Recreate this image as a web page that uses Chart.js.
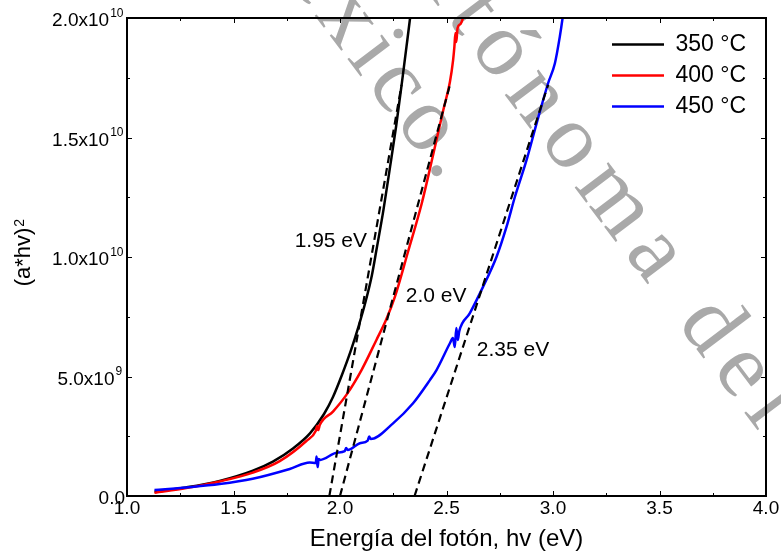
<!DOCTYPE html>
<html>
<head>
<meta charset="utf-8">
<title>Energía del fotón vs (a*hv)^2</title>
<script src="https://cdn.jsdelivr.net/npm/chart.js@4/dist/chart.umd.min.js"></script>
<style>
  html, body { margin: 0; padding: 0; background: #ffffff; }
  #wrap { position: relative; width: 781px; height: 557px; }
</style>
</head>
<body>
<div id="wrap"><canvas id="c" width="781" height="557"></canvas></div>
<script>
// ---- data ---------------------------------------------------------------
// Tauc plot: (a*hv)^2 against photon energy for three annealing temperatures.
const seriesNames = ['350 °C', '400 °C', '450 °C'];

const e350 = [1.129, 1.278, 1.435, 1.591, 1.685, 1.781, 1.859, 1.925, 1.967, 2.009,
              2.052, 2.089, 2.122, 2.150, 2.171, 2.204, 2.235, 2.263, 2.291, 2.312,
              2.329, 2.336];
const v350 = [1.8e8, 3.6e8, 6.3e8, 1.06e9, 1.44e9, 2.00e9, 2.62e9, 3.43e9, 4.14e9, 5.06e9,
              6.11e9, 7.15e9, 8.20e9, 9.25e9, 1.029e10, 1.197e10, 1.377e10, 1.544e10, 1.732e10, 1.879e10,
              2.0e10, 2.054e10];

const e400 = [1.129, 1.278, 1.435, 1.591, 1.717, 1.842, 1.886, 1.893, 1.898, 1.905,
              1.967, 2.030, 2.101, 2.171, 2.216, 2.258, 2.319, 2.384, 2.437, 2.485,
              2.516, 2.531, 2.537, 2.542, 2.546, 2.552, 2.566, 2.577, 2.583];
const v400 = [1.4e8, 3.3e8, 6.1e8, 9.8e8, 1.46e9, 2.30e9, 2.72e9, 2.93e9, 2.76e9, 2.97e9,
              3.53e9, 4.23e9, 5.27e9, 6.53e9, 7.36e9, 8.34e9, 1.021e10, 1.225e10, 1.427e10, 1.615e10,
              1.732e10, 1.824e10, 1.879e10, 1.937e10, 1.900e10, 1.958e10, 1.975e10, 2.0e10, 2.033e10];

const e450 = [1.129, 1.280, 1.435, 1.590, 1.764, 1.858, 1.886, 1.890, 1.895, 1.900,
              1.907, 1.983, 2.022, 2.029, 2.036, 2.093, 2.130, 2.137, 2.144, 2.249,
              2.343, 2.422, 2.453, 2.516, 2.530, 2.539, 2.546, 2.553, 2.560, 2.609,
              2.672, 2.735, 2.782, 2.821, 2.876, 2.923, 2.977, 3.009, 3.032, 3.045,
              3.051];
const v450 = [2.5e8, 3.6e8, 5.0e8, 7.2e8, 1.13e9, 1.40e9, 1.38e9, 1.65e9, 1.21e9, 1.55e9,
              1.51e9, 1.81e9, 1.88e9, 2.01e9, 1.92e9, 2.21e9, 2.32e9, 2.49e9, 2.38e9, 3.04e9,
              3.88e9, 4.85e9, 5.27e9, 6.39e9, 6.61e9, 6.23e9, 7.03e9, 6.53e9, 6.90e9, 7.64e9,
              8.76e9, 1.001e10, 1.127e10, 1.251e10, 1.406e10, 1.559e10, 1.727e10, 1.811e10, 1.922e10, 2.0e10,
              2.042e10];

// Linear fits extrapolated to zero: band-gap energies and upper end of each fit
const gapValues  = [1.95, 2.0, 2.35];
const gapLabels  = ['1.95 eV', '2.0 eV', '2.35 eV'];
const fitTopE    = [2.289, 2.516, 2.977];
const fitTopV    = [1.72e10, 1.72e10, 1.72e10];

// Axis tick labels
const xTickLabels    = ['1.0', '1.5', '2.0', '2.5', '3.0', '3.5', '4.0'];
const yTickMantissas = ['0.0', '5.0x10', '1.0x10', '1.5x10', '2.0x10'];
const yTickExponents = ['', '9', '10', '10', '10'];

// ---- styling --------------------------------------------------------------
const SANS = '"Liberation Sans", Arial, Helvetica, sans-serif';
const SERIF = '"Liberation Serif", "Times New Roman", serif';
const seriesColors = ['#000000', '#ff0000', '#0000ff'];
const TICK_FONT = 19;
const EXP_FONT = 12;

Chart.defaults.font.family = SANS;
Chart.defaults.color = '#000000';

// room kept after each y mantissa for its superscript exponent
function expReserve(exp) {
  if (!exp) return '';
  return exp.length > 1 ? '   ' : '  ';
}

// where the band-gap notes sit (data coordinates of their left/middle point)
const gapNotePos = [
  { x: 1.787, y: 1.067e10 },
  { x: 2.309, y: 8.37e9 },
  { x: 2.642, y: 6.11e9 }
];

const toPoints = (xs, ys) => xs.map((x, i) => ({ x: x, y: ys[i] }));

const curveSets = [[e350, v350], [e400, v400], [e450, v450]].map((pair, i) => ({
  label: seriesNames[i],
  data: toPoints(pair[0], pair[1]),
  borderColor: seriesColors[i],
  backgroundColor: seriesColors[i],
  borderWidth: 2.5,
  pointRadius: 0,
  cubicInterpolationMode: 'monotone',
  order: 3 - i
}));

const fitSets = gapValues.map((g, i) => ({
  label: 'fit ' + gapLabels[i],
  data: [{ x: g, y: 0 }, { x: fitTopE[i], y: fitTopV[i] }],
  borderColor: '#000000',
  backgroundColor: '#000000',
  borderWidth: 2.2,
  borderDash: [8, 5],
  pointRadius: 0,
  tension: 0,
  order: 0
}));

// diagonal gray watermark lettering behind the plot
const watermarkPlugin = {
  id: 'watermark',
  beforeDraw(chart) {
    const ctx = chart.ctx;
    const lines = [
      { text: 'Autónoma del', x: 364, y: -92, gap: 12 },
      { text: 'México.', x: 232, y: -94, gap: 7 }
    ];
    ctx.save();
    ctx.fillStyle = '#a9a9a9';
    ctx.font = '92px ' + SERIF;
    ctx.textBaseline = 'alphabetic';
    ctx.textAlign = 'left';
    lines.forEach(l => {
      ctx.save();
      ctx.translate(l.x, l.y);
      ctx.rotate(53 * Math.PI / 180);
      let pos = 0;
      for (const ch of l.text) {
        ctx.fillText(ch, pos, 0);
        pos += ctx.measureText(ch).width + l.gap;
      }
      ctx.restore();
    });
    ctx.restore();
  }
};

// frame, inward tick marks, exponents, notes, legend placement
const framePlugin = {
  id: 'frame',
  afterLayout(chart) {
    const lg = chart.legend;
    const ca = chart.chartArea;
    if (!lg) return;
    const w = lg.width;
    lg.left = ca.right - 162;
    lg.top = ca.top + 7;
    lg.right = lg.left + w;
    lg.bottom = ca.bottom;
  },
  afterDraw(chart) {
    const ctx = chart.ctx;
    const ca = chart.chartArea;
    const xs = chart.scales.x, ys = chart.scales.y;
    ctx.save();

    // plot frame
    ctx.strokeStyle = '#000000';
    ctx.lineWidth = 2;
    ctx.strokeRect(ca.left, ca.top, ca.right - ca.left, ca.bottom - ca.top);

    // inward ticks on all four sides (major + one minor between)
    ctx.lineWidth = 1;
    ctx.beginPath();
    const xt = xs.ticks.map(t => t.value);
    xt.forEach((v, i) => {
      const px = Math.round(xs.getPixelForValue(v)) + 0.5;
      ctx.moveTo(px, ca.bottom); ctx.lineTo(px, ca.bottom - 5);
      ctx.moveTo(px, ca.top); ctx.lineTo(px, ca.top + 5);
      if (i < xt.length - 1) {
        const pm = Math.round(xs.getPixelForValue((v + xt[i + 1]) / 2)) + 0.5;
        ctx.moveTo(pm, ca.bottom); ctx.lineTo(pm, ca.bottom - 3);
        ctx.moveTo(pm, ca.top); ctx.lineTo(pm, ca.top + 3);
      }
    });
    const yt = ys.ticks.map(t => t.value);
    yt.forEach((v, i) => {
      const py = Math.round(ys.getPixelForValue(v)) + 0.5;
      ctx.moveTo(ca.left, py); ctx.lineTo(ca.left + 5, py);
      ctx.moveTo(ca.right, py); ctx.lineTo(ca.right - 5, py);
      if (i < yt.length - 1) {
        const pm = Math.round(ys.getPixelForValue((v + yt[i + 1]) / 2)) + 0.5;
        ctx.moveTo(ca.left, pm); ctx.lineTo(ca.left + 3, pm);
        ctx.moveTo(ca.right, pm); ctx.lineTo(ca.right - 3, pm);
      }
    });
    ctx.stroke();

    // superscript exponents of the y tick labels
    ctx.fillStyle = '#000000';
    const pad = ys.options.ticks.padding;
    const off = ys.options.ticks.labelOffset;
    ys.ticks.forEach((t, i) => {
      const exp = yTickExponents[i];
      if (!exp) return;
      ctx.font = TICK_FONT + 'px ' + SANS;
      const reserveW = ctx.measureText(expReserve(exp)).width;
      const right = ys.right - pad;
      const y = ys.getPixelForValue(t.value) + off;
      ctx.font = EXP_FONT + 'px ' + SANS;
      ctx.textAlign = 'left';
      ctx.textBaseline = 'alphabetic';
      ctx.fillText(exp, right - reserveW + 1, y - 4.5);
    });

    // superscript 2 of the y axis title
    const tOpt = ys.options.title;
    ctx.font = tOpt.font.size + 'px ' + SANS;
    const tw = ctx.measureText(tOpt.text).width;
    const midY = (ys.top + ys.bottom) / 2;
    ctx.save();
    ctx.translate(20, midY - tw / 2 - 1);
    ctx.rotate(-Math.PI / 2);
    ctx.font = '14px ' + SANS;
    ctx.textAlign = 'left';
    ctx.textBaseline = 'middle';
    ctx.fillText('2', 0, 0);
    ctx.restore();

    // band-gap notes
    ctx.font = '21px ' + SANS;
    ctx.textAlign = 'left';
    ctx.textBaseline = 'middle';
    gapLabels.forEach((txt, i) => {
      ctx.fillText(txt, xs.getPixelForValue(gapNotePos[i].x), ys.getPixelForValue(gapNotePos[i].y));
    });
    ctx.restore();
  }
};

new Chart(document.getElementById('c'), {
  type: 'line',
  data: { datasets: curveSets.concat(fitSets) },
  options: {
    responsive: false,
    animation: false,
    devicePixelRatio: 1,
    layout: { padding: { left: 0, right: 15, top: 18, bottom: 0 } },
    plugins: {
      tooltip: { enabled: false },
      legend: {
        position: 'chartArea',
        align: 'start',
        labels: {
          usePointStyle: true,
          pointStyle: 'line',
          pointStyleWidth: 52,
          padding: 8,
          color: '#000000',
          font: { family: SANS, size: 23 },
          filter: item => item.datasetIndex < seriesNames.length,
          sort: (a, b) => a.datasetIndex - b.datasetIndex
        }
      }
    },
    scales: {
      x: {
        type: 'linear',
        min: 1.0,
        max: 4.0,
        afterFit: s => { s.height = 61; },
        grid: { display: false, drawTicks: false },
        border: { display: false },
        ticks: {
          stepSize: 0.5,
          autoSkip: false,
          maxRotation: 0,
          padding: 1,
          color: '#000000',
          font: { family: SANS, size: TICK_FONT },
          callback: (v, i) => xTickLabels[i]
        },
        title: {
          display: true,
          text: 'Energía del fotón, hv (eV)',
          color: '#000000',
          font: { family: SANS, size: 24 },
          padding: { top: 0, bottom: 3 }
        }
      },
      y: {
        type: 'linear',
        min: 0,
        max: 2e10,
        afterFit: s => { s.width = 127; },
        grid: { display: false, drawTicks: false },
        border: { display: false },
        ticks: {
          stepSize: 5e9,
          autoSkip: false,
          padding: 2,
          labelOffset: 3,
          color: '#000000',
          font: { family: SANS, size: TICK_FONT },
          callback: (v, i) => yTickMantissas[i] + expReserve(yTickExponents[i])
        },
        title: {
          display: true,
          text: '(a*hv)',
          color: '#000000',
          font: { family: SANS, size: 22 },
          padding: { top: 11, bottom: 0 }
        }
      }
    }
  },
  plugins: [watermarkPlugin, framePlugin]
});
</script>
</body>
</html>
